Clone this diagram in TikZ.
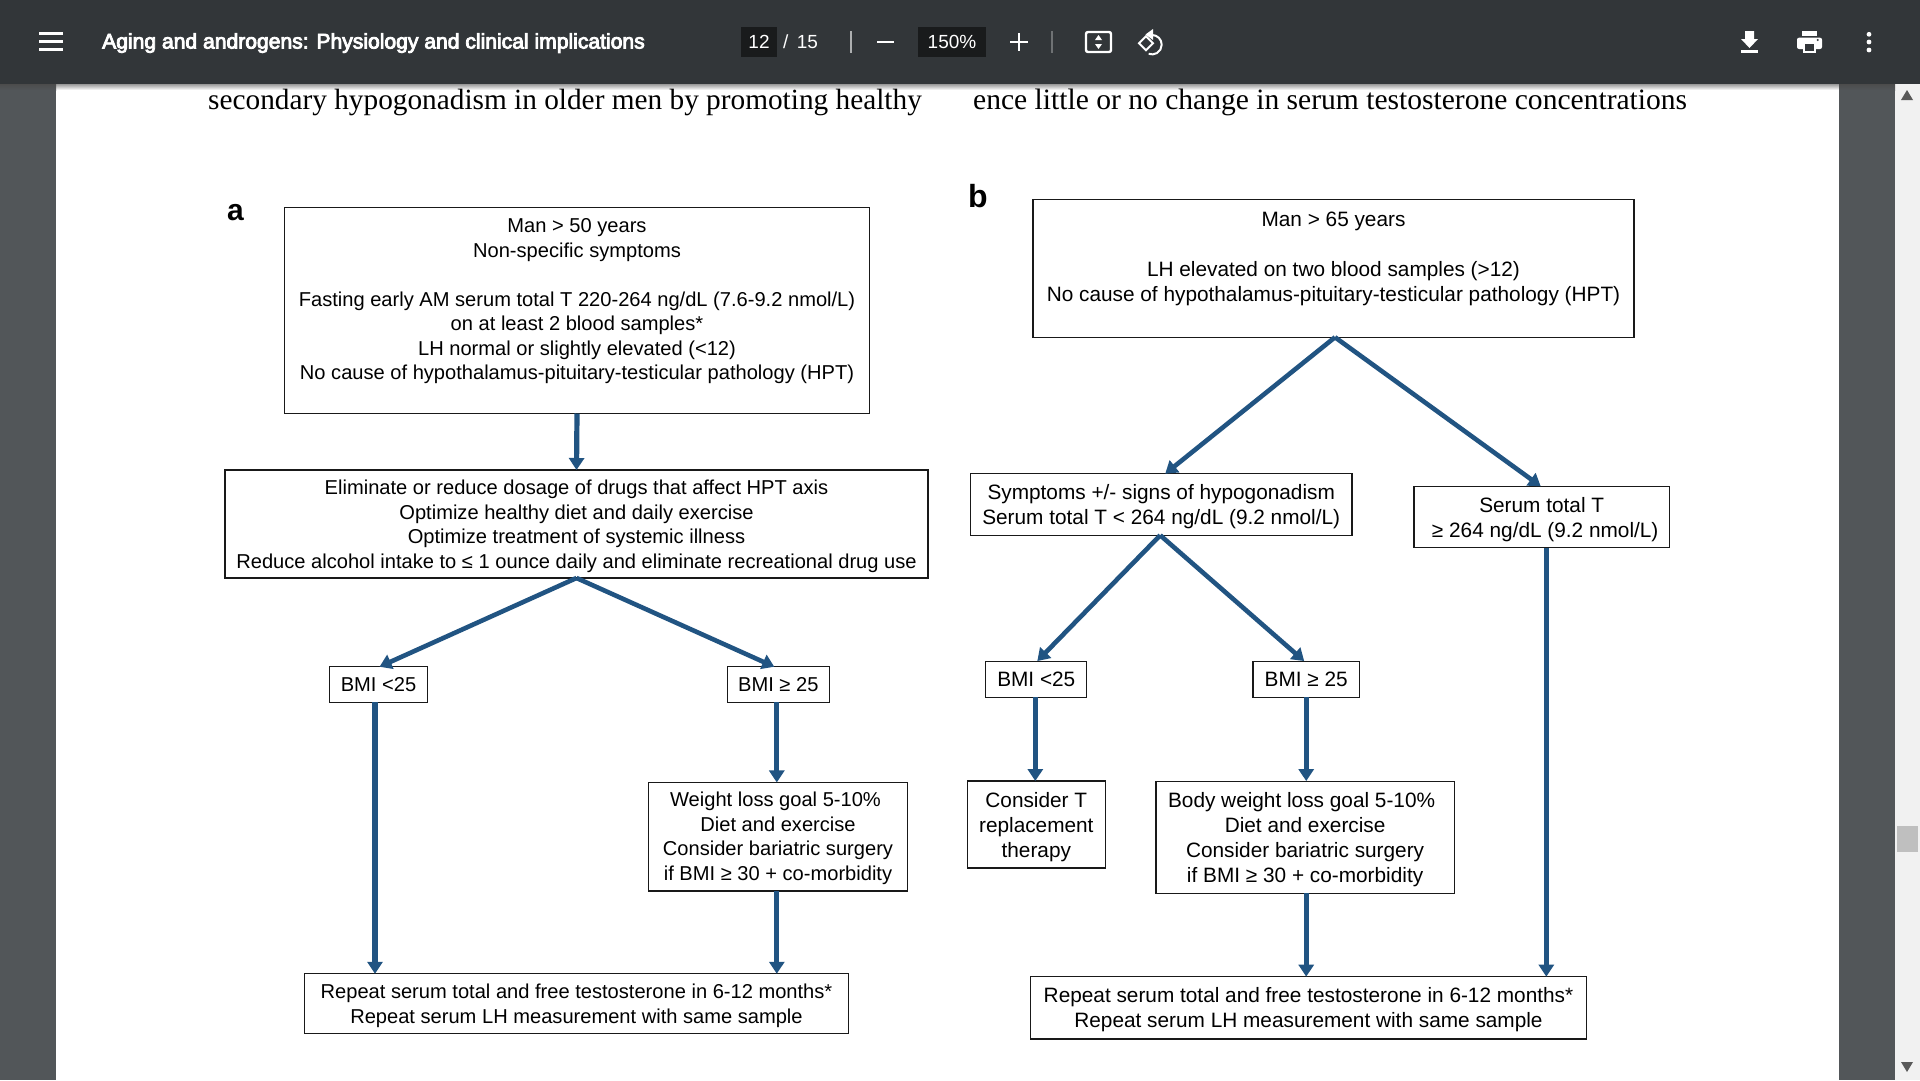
\documentclass[tikz,border=0pt]{standalone}
\usepackage{fontspec}
\setmainfont{Liberation Sans}
\newfontfamily\paperfont{Liberation Serif}
\newfontfamily\uifont[FakeBold=4]{Liberation Sans}
\usetikzlibrary{arrows.meta}
\definecolor{barcol}{HTML}{323639}
\definecolor{sidecol}{HTML}{525659}
\definecolor{inputcol}{HTML}{191B1C}
\definecolor{flowcol}{HTML}{215482}
\definecolor{scrollcol}{HTML}{F1F1F1}
\newcommand{\boxfontA}{\fontsize{20.1}{24.6}\selectfont}
\newcommand{\boxfontB}{\fontsize{20.8}{25}\selectfont}
\newcommand{\firstline}[1][19.5pt]{\rule{0pt}{#1}}

\begin{document}
\begin{tikzpicture}[x=1pt, y=-1pt, >={Triangle[length=12pt,width=15pt]},
    flowA/.style = {draw=black!90, rectangle, inner sep=0pt, outer sep=0pt, line width=1.1pt, align=center, font=\boxfontA, fill=white},
    flowB/.style = {flowA, font=\boxfontB},
    flowline/.style = {->, draw=flowcol, fill=flowcol, line width=5.2pt},
    flowdiag/.style = {flowline, line width=4.6pt},
    barlabel/.style = {text=white, inner sep=0pt, font=\fontsize{19}{22}\selectfont},
    icon/.style = {draw=white, line width=2.4pt}
    ]
    \useasboundingbox (0,0) rectangle (1920,1080);

    % window
    \fill[sidecol] (0,0) rectangle (1920,1080);
    \fill[white] (56,84) rectangle (1839,1080);
    \fill[scrollcol] (1895,84) rectangle (1920,1080);
    \fill[black!25] (1896.5,826) rectangle (1918,852);
    \fill[black!65] (1907,90) -- (1913,100) -- (1901,100) -- cycle;
    \fill[black!65] (1907,1072) -- (1913,1062) -- (1901,1062) -- cycle;
    \shade[top color=black!40, bottom color=white] (56,84) rectangle (1839,90);
    \shade[top color=black!70, bottom color=sidecol] (0,84) rectangle (56,90);
    \shade[top color=black!70, bottom color=sidecol] (1839,84) rectangle (1895,90);
    \fill[barcol] (0,0) rectangle (1920,84);

    % toolbar
    \fill[inputcol] (741,27) rectangle (777,57);
    \fill[inputcol] (918,27) rectangle (986,57);
    \node (title) [barlabel, anchor=base west, font=\uifont\fontsize{21.1}{24}\selectfont] at (102,48.5) {Aging and androgens: Physiology and clinical implications};
    \node (pagenum) [barlabel, anchor=base] at (759,48.5) {12};
    \node (pagetotal) [barlabel, anchor=base west] at (783,48) {/ \,15};
    \node (zoomval) [barlabel, anchor=base] at (952,48.5) {150\%};
    \draw[icon] (39,33.5) -- (63,33.5) (39,41.5) -- (63,41.5) (39,49.5) -- (63,49.5);
    \draw[icon] (877,42) -- (894,42);
    \draw[icon] (1010,42) -- (1028,42) (1019,33) -- (1019,51);
    \draw[white!60!barcol, line width=1.2pt] (851,31) -- (851,53);
    \draw[white!30!barcol, line width=1.2pt] (1052,31) -- (1052,53);
    \draw[icon, rounded corners=2pt] (1086,32) rectangle (1111,52);
    \fill[white] (1098.5,35) -- (1102,40) -- (1095,40) -- cycle;
    \fill[white] (1098.5,49) -- (1102,44) -- (1095,44) -- cycle;
    \draw[icon, line width=2pt] (1139,43.3) -- (1146,36.3) -- (1153,43.3) -- (1146,50.3) -- cycle;
    \draw[icon, line width=2pt] (1152,35) arc[start angle=-90, end angle=110, radius=9.7];
    \fill[white] (1145.5,34.5) -- (1153,29) -- (1153,40) -- cycle;
    \fill[white] (1745,31) rectangle (1754,39) (1741,39) -- (1758,39) -- (1749.5,48) -- cycle;
    \fill[white] (1741,50) rectangle (1758,52.5);
    \fill[white, rounded corners=2pt] (1797,37.7) rectangle (1822,49);
    \fill[white] (1802,30.7) rectangle (1817,36);
    \fill[white] (1803,47) rectangle (1816,53);
    \fill[barcol] (1805,44) rectangle (1814,50.5);
    \fill[barcol] (1817.7,40) circle (1.2);
    \foreach \y in {34.3,42,50}
      \fill[white] (1869,\y) circle (2.4);

    % page text
    \node (textL) [inner sep=0pt, anchor=base west, font=\paperfont\fontsize{29.3}{32}\selectfont] at (208,109) {secondary hypogonadism in older men by promoting healthy};
    \node (textR) [inner sep=0pt, anchor=base west, font=\paperfont\fontsize{29.55}{32}\selectfont] at (973,109) {ence little or no change in serum testosterone concentrations};

    % panel a
    \node (labelA) [inner sep=0pt, anchor=base west, font=\bfseries\fontsize{30}{32}\selectfont] at (227,220) {a};
    \node (manA) [flowA, minimum width=585.5pt, minimum height=206pt] at (577,310.5) {\firstline[16pt]Man > 50 years\\Non-specific symptoms\\[24.4pt]Fasting early AM serum total T 220-264 ng/dL (7.6-9.2 nmol/L)\hspace*{5pt}\\on at least 2 blood samples*\\LH normal or slightly elevated (<12)\\No cause of hypothalamus-pituitary-testicular pathology (HPT)\\ ~};
    \node (drugsA) [flowA, minimum width=703pt, minimum height=108pt] at (576.5,524) {\firstline Eliminate or reduce dosage of drugs that affect HPT axis\\Optimize healthy diet and daily exercise\\Optimize treatment of systemic illness\\Reduce alcohol intake to ≤ 1 ounce daily and eliminate recreational drug use};
    \node (lowA) [flowA, minimum width=97.5pt, minimum height=35.5pt] at (378.5,684.5) {BMI <25};
    \node (highA) [flowA, minimum width=102pt, minimum height=35.5pt] at (778.3,684.5) {BMI ≥ 25};
    \node (lossA) [flowA, minimum width=259pt, minimum height=108.5pt] at (778,836.7) {\firstline[17.5pt]Weight loss goal 5-10\%\hspace*{5pt}\\Diet and exercise\\Consider bariatric surgery\hspace*{5pt}\\if BMI ≥ 30 + co-morbidity};
    \node (repeatA) [flowA, minimum width=543.5pt, minimum height=59.5pt] at (576.5,1003.5) {\firstline Repeat serum total and free testosterone in 6-12 months*\\Repeat serum LH measurement with same sample};

    \draw[flowline] (manA.south) -- (drugsA.north);
    \draw[flowdiag] (drugsA.south) -- ([xshift=1pt]lowA.north);
    \draw[flowdiag] (drugsA.south) -- ([xshift=-4pt]highA.north);
    \draw[flowline] ([xshift=-3.5pt]lowA.south) -- ([xshift=-3.5pt]lowA.south |- repeatA.north);
    \draw[flowline] ([xshift=-1.5pt]highA.south) -- ([xshift=-1.5pt]highA.south |- lossA.north);
    \draw[flowline] ([xshift=-1.5pt]highA.south |- lossA.south) -- ([xshift=-1.5pt]highA.south |- repeatA.north);

    % panel b
    \node (labelB) [inner sep=0pt, anchor=base west, font=\bfseries\fontsize{32}{34}\selectfont] at (968,207) {b};
    \node (manB) [flowB, minimum width=601pt, minimum height=137.5pt] at (1333.5,268.5) {\firstline[16.5pt]Man > 65 years\\[25pt]LH elevated on two blood samples (>12)\hspace*{6pt}\\No cause of hypothalamus-pituitary-testicular pathology (HPT)\\ ~};
    \node (sympB) [flowB, minimum width=381.5pt, minimum height=61.5pt] at (1161.2,504.5) {\firstline Symptoms +/- signs of hypogonadism\\Serum total T < 264 ng/dL (9.2 nmol/L)};
    \node (serumB) [flowB, minimum width=255.5pt, minimum height=61.5pt] at (1541.7,517) {\firstline Serum total T\\\hspace*{7pt}≥ 264 ng/dL (9.2 nmol/L)};
    \node (lowB) [flowB, minimum width=100.8pt, minimum height=36.3pt] at (1036.3,679.2) {BMI <25};
    \node (highB) [flowB, minimum width=106.5pt, minimum height=36.3pt] at (1306.2,679.2) {BMI ≥ 25};
    \node (replB) [flowB, minimum width=138pt, minimum height=87pt] at (1036.3,824.5) {\firstline Consider T\\replacement\\therapy};
    \node (lossB) [flowB, minimum width=298.2pt, minimum height=112.3pt] at (1305.1,837.2) {\firstline Body weight loss goal 5-10\%\hspace*{7pt}\\Diet and exercise\\Consider bariatric surgery\hspace*{5pt}\\if BMI ≥ 30 + co-morbidity};
    \node (repeatB) [flowB, minimum width=556.2pt, minimum height=62.3pt] at (1308.5,1007.8) {\firstline Repeat serum total and free testosterone in 6-12 months*\\Repeat serum LH measurement with same sample};

    \draw[flowdiag] ([xshift=1.5pt]manB.south) -- ([xshift=4pt]sympB.north);
    \draw[flowdiag] ([xshift=1.5pt]manB.south) -- ([xshift=-1pt]serumB.north);
    \draw[flowdiag] ([xshift=-1pt]sympB.south) -- ([xshift=1pt]lowB.north);
    \draw[flowdiag] ([xshift=-1pt]sympB.south) -- ([xshift=-2pt]highB.north);
    \draw[flowline] ([xshift=-1pt]lowB.south) -- ([xshift=-1pt]lowB.south |- replB.north);
    \draw[flowline] (highB.south) -- (highB.south |- lossB.north);
    \draw[flowline] (highB.south |- lossB.south) -- (highB.south |- repeatB.north);
    \draw[flowline] ([xshift=4.6pt]serumB.south) -- ([xshift=4.6pt]serumB.south |- repeatB.north);
\end{tikzpicture}
\end{document}
